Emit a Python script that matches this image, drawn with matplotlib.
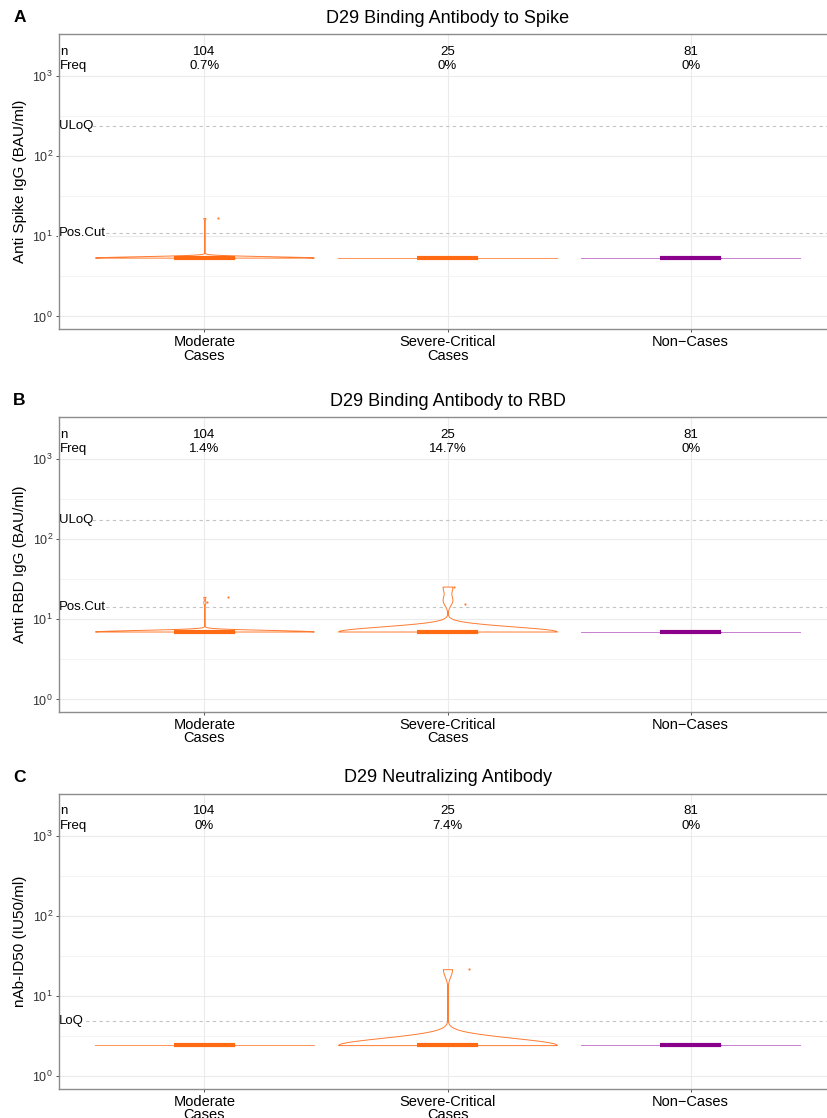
import numpy as np
import matplotlib
matplotlib.use("Agg")
import matplotlib.pyplot as plt
from matplotlib.patches import Rectangle
from matplotlib.ticker import FixedLocator, FuncFormatter

plt.rcParams['font.family'] = ['Liberation Sans', 'DejaVu Sans']
plt.rcParams['mathtext.fontset'] = 'custom'
plt.rcParams['mathtext.rm'] = 'Liberation Sans'

groups = ["Moderate\nCases", "Severe-Critical\nCases", "Non\u2212Cases"]
n_counts = [104, 25, 81]
panel_tags = ["A", "B", "C"]
titles = ["D29 Binding Antibody to Spike",
          "D29 Binding Antibody to RBD",
          "D29 Neutralizing Antibody"]
ylabels = ["Anti Spike IgG (BAU/ml)",
           "Anti RBD IgG (BAU/ml)",
           "nAb-ID50 (IU50/ml)"]

# values below the cut-off sit at a floor value; the rest are listed
spike_floor = 5.42
spike_floor_n = [103, 25, 81]
spike_above = [[16.9], [], []]
spike_dots = [[17.1], [], []]
spike_dot_jitter = [[0.058], [], []]
spike_freq = ["0.7%", "0%", "0%"]
spike_refs = [("ULoQ", 238.1), ("Pos.Cut", 10.84)]

rbd_floor = 7.04
rbd_floor_n = [102, 23, 81]
rbd_above = [[16.3, 19.0], [17.3, 25.6], []]
rbd_dots = [[19.0, 16.6], [15.7, 25.6], []]
rbd_dot_jitter = [[0.099, 0.012], [0.073, 0.025], []]
rbd_freq = ["1.4%", "14.7%", "0%"]
rbd_refs = [("ULoQ", 172.6), ("Pos.Cut", 14.09)]

nab_floor = 2.44
nab_floor_n = [104, 24, 81]
nab_above = [[], [21.6], []]
nab_dots = [[], [21.9], []]
nab_dot_jitter = [[], [0.09], []]
nab_freq = ["0%", "7.4%", "0%"]
nab_refs = [("LoQ", 4.9)]

panels = [
    (spike_floor, spike_floor_n, spike_above, spike_dots, spike_dot_jitter, spike_freq, spike_refs),
    (rbd_floor, rbd_floor_n, rbd_above, rbd_dots, rbd_dot_jitter, rbd_freq, rbd_refs),
    (nab_floor, nab_floor_n, nab_above, nab_dots, nab_dot_jitter, nab_freq, nab_refs),
]

edge_colors = ["#FF7A30", "#FF7A30", "#B860C4"]
box_colors = ["#FF6A13", "#FF6A13", "#8B008B"]


def nrd0(x):
    sd = np.std(x, ddof=1)
    q75, q25 = np.percentile(x, [75, 25])
    lo = min(sd, (q75 - q25) / 1.34)
    if lo == 0:
        lo = sd or abs(x[0]) or 1
    return 0.9 * lo * len(x) ** -0.2


def draw_violin(ax, vals, pos, edge):
    logv = np.log10(vals)
    if np.ptp(logv) == 0:
        ax.plot([pos - 0.45, pos + 0.45], [vals[0], vals[0]], color=edge, lw=0.7,
                alpha=0.8, zorder=3)
        return
    bw = nrd0(logv)
    grid = np.linspace(logv.min(), logv.max(), 800)
    dens = np.exp(-0.5 * ((grid[:, None] - logv[None, :]) / bw) ** 2).sum(axis=1)
    half = 0.45 * dens / dens.max()
    ax.fill_betweenx(10 ** grid, pos - half, pos + half, facecolor="white",
                     edgecolor=edge, lw=0.7, zorder=3)


def draw_box(ax, vals, pos, color):
    q1, med, q3 = np.percentile(vals, [25, 50, 75])
    iqr = q3 - q1
    lo = vals[vals >= q1 - 1.5 * iqr].min()
    hi = vals[vals <= q3 + 1.5 * iqr].max()
    ax.plot([pos, pos], [lo, q1], color=color, lw=0.8, zorder=4)
    ax.plot([pos, pos], [q3, hi], color=color, lw=0.8, zorder=4)
    ax.add_patch(Rectangle((pos - 0.125, q1), 0.25, q3 - q1, facecolor="white",
                           edgecolor=color, lw=1.0, zorder=4))
    ax.plot([pos - 0.125, pos + 0.125], [med, med], color=color, lw=3.0,
            solid_capstyle="butt", zorder=5)


W, H = 827, 1118
fig = plt.figure(figsize=(W / 100, H / 100), dpi=100)

ax_left = 58.5
ax_width = 778
ax_height = 294.5
ax_tops = [34.3, 417.3, 794]

for i, (floor, floor_n, above, dots, jitter, freq, refs) in enumerate(panels):
    top = ax_tops[i]
    ax = fig.add_axes([ax_left / W, 1 - (top + ax_height) / H, ax_width / W, ax_height / H])
    ax.set_yscale("log")
    ax.set_ylim(10 ** -0.154, 10 ** 3.52)
    ax.set_xlim(0.4, 3.6)

    ax.yaxis.set_major_locator(FixedLocator([1, 10, 100, 1000]))
    ax.yaxis.set_minor_locator(FixedLocator([10 ** 0.5, 10 ** 1.5, 10 ** 2.5]))
    ax.yaxis.set_major_formatter(FuncFormatter(lambda v, p: r"$\mathregular{10^{%d}}$" % round(np.log10(v))))
    ax.yaxis.set_minor_formatter(FuncFormatter(lambda v, p: ""))
    ax.set_xticks([1, 2, 3])
    ax.set_xticklabels(groups, fontsize=10.5, color="black", linespacing=0.95)
    ax.tick_params(axis="y", which="major", labelsize=9, labelcolor="#333333",
                   length=2.5, width=0.6, color="#333333", pad=1.5)
    ax.tick_params(axis="y", which="minor", length=0)
    ax.tick_params(axis="x", length=2.5, width=0.6, color="#333333", pad=2)

    ax.grid(True, which="major", color="#EBEBEB", lw=0.8, zorder=0)
    ax.grid(True, which="minor", axis="y", color="#F3F3F3", lw=0.6, zorder=0)
    ax.set_axisbelow(True)
    for s in ax.spines.values():
        s.set_color("#8C8C8C")
        s.set_linewidth(1.0)

    for label, val in refs:
        ax.axhline(val, color="#C4C4C4", lw=0.8, ls=(0, (3, 3)), zorder=1)
        ax.text(0.4, val, label, ha="left", va="center", fontsize=9.5, zorder=2,
                bbox=dict(facecolor="white", edgecolor="none", pad=0.3))

    for j in range(3):
        pos = j + 1
        vals = np.array([floor] * floor_n[j] + above[j])
        draw_violin(ax, vals, pos, edge_colors[j])
        draw_box(ax, vals, pos, box_colors[j])
        if dots[j]:
            ax.scatter(pos + np.array(jitter[j]), dots[j], s=2.5, color=edge_colors[j],
                       lw=0, zorder=6)
        ax.text(pos, 0.941, str(n_counts[j]), transform=ax.get_xaxis_transform(),
                ha="center", va="center", fontsize=9.5)
        ax.text(pos, 0.892, freq[j], transform=ax.get_xaxis_transform(),
                ha="center", va="center", fontsize=9.5)

    ax.text(0.405, 0.941, "n", transform=ax.get_xaxis_transform(), ha="left", va="center", fontsize=9.5)
    ax.text(0.405, 0.892, "Freq", transform=ax.get_xaxis_transform(), ha="left", va="center", fontsize=9.5)

    ax.set_ylabel(ylabels[i], fontsize=11)
    ax.yaxis.set_label_coords(-0.040, 0.5)

    fig.text((ax_left + ax_width / 2) / W, 1 - (top - 16) / H, titles[i],
             ha="center", va="center", fontsize=13)
    fig.text(19.5 / W, 1 - (top - 16.5) / H, panel_tags[i],
             ha="center", va="center", fontsize=12.5, fontweight="bold")

fig.savefig("out.png", dpi=100)
